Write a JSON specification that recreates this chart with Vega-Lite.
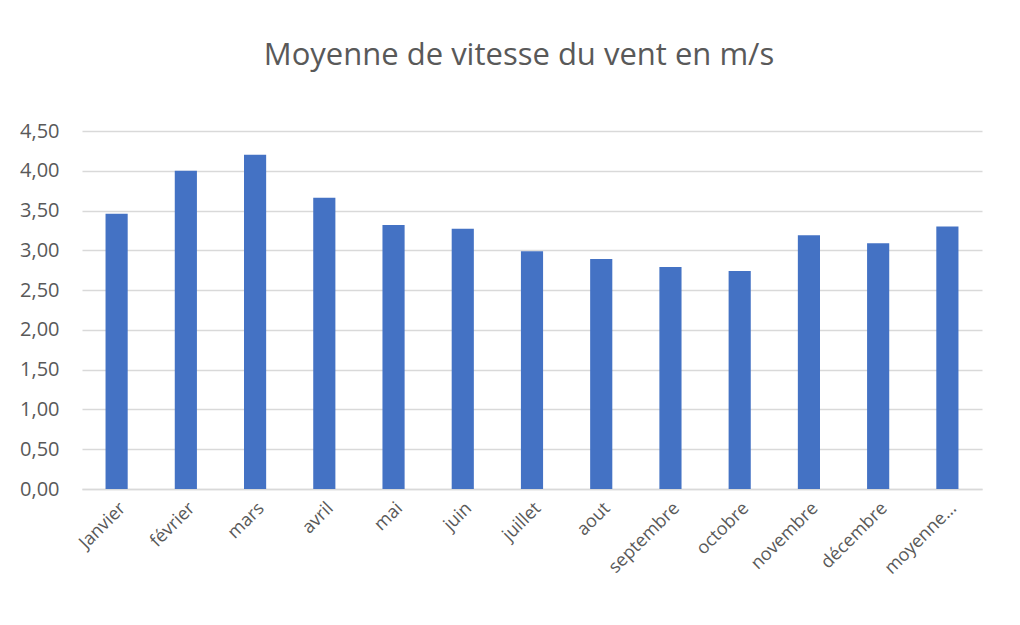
{
  "$schema": "https://vega.github.io/schema/vega-lite/v6.json",
  "autosize": {"type": "none"},
  "padding": {"left": 82, "top": 131, "right": 38, "bottom": 136},
  "width": 900,
  "height": 358,
  "background": "white",
  "title": {
    "text": "Moyenne de vitesse du vent en m/s",
    "font": "Open Sans",
    "fontSize": 31,
    "fontWeight": "normal",
    "color": "#595959",
    "anchor": "middle",
    "offset": 49,
    "dx": -13
  },
  "data": {
    "values": [
      {"mois": "Janvier", "vitesse": 3.46},
      {"mois": "février", "vitesse": 4.00},
      {"mois": "mars", "vitesse": 4.20},
      {"mois": "avril", "vitesse": 3.66},
      {"mois": "mai", "vitesse": 3.32},
      {"mois": "juin", "vitesse": 3.27},
      {"mois": "juillet", "vitesse": 2.99},
      {"mois": "aout", "vitesse": 2.89},
      {"mois": "septembre", "vitesse": 2.79},
      {"mois": "octobre", "vitesse": 2.74},
      {"mois": "novembre", "vitesse": 3.19},
      {"mois": "décembre", "vitesse": 3.09},
      {"mois": "moyenne…", "vitesse": 3.30}
    ]
  },
  "mark": {"type": "bar", "color": "#4472C4"},
  "encoding": {
    "x": {
      "field": "mois",
      "type": "nominal",
      "sort": null,
      "scale": {"paddingInner": 0.68, "paddingOuter": 0.34},
      "axis": {
        "title": null,
        "labelAngle": -45,
        "labelAlign": "right",
        "labelBaseline": "top",
        "labelFont": "Open Sans",
        "labelFontSize": 18,
        "labelColor": "#595959",
        "labelPadding": 10,
        "ticks": false,
        "domain": true,
        "domainColor": "#d9d9d9",
        "domainWidth": 1.5
      }
    },
    "y": {
      "field": "vitesse",
      "type": "quantitative",
      "scale": {"domain": [0, 4.5], "nice": false},
      "axis": {
        "title": null,
        "values": [0, 0.5, 1, 1.5, 2, 2.5, 3, 3.5, 4, 4.5],
        "labelExpr": "replace(format(datum.value, '.2f'), '.', ',')",
        "labelFont": "Open Sans",
        "labelFontSize": 20,
        "labelColor": "#595959",
        "labelPadding": 23,
        "ticks": false,
        "domain": false,
        "grid": true,
        "gridColor": "#d9d9d9",
        "gridWidth": 1.5
      }
    }
  },
  "config": {"view": {"stroke": null}}
}
